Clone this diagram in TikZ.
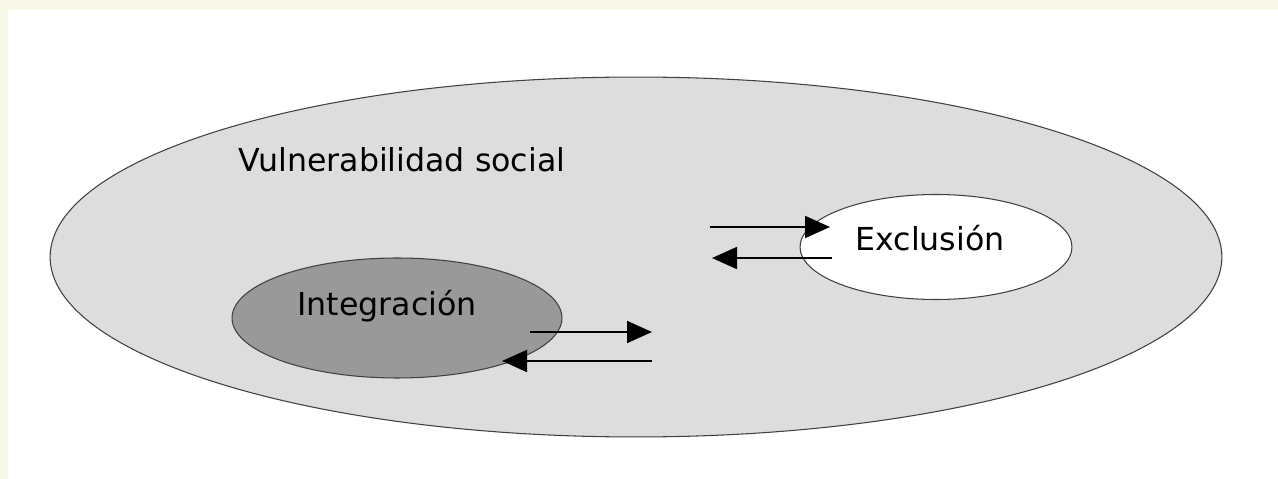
\documentclass[tikz,border=0pt]{standalone}
\usepackage{fontspec}
\setmainfont{DejaVu Sans}
\usetikzlibrary{shapes.geometric,arrows.meta}

\definecolor{paper}{HTML}{F8F9E8}
\definecolor{vulfill}{HTML}{DDDDDD}
\definecolor{intfill}{HTML}{999999}

\tikzset{
    zone/.style={ellipse, draw=black!75, line width=0.6pt, inner sep=0pt},
    flow/.style={line width=1pt, -{Triangle[length=0.5cm, width=0.44cm]}},
    label/.style={font=\fontsize{18}{21}\selectfont, text=black}
}

\begin{document}
\begin{tikzpicture}[x=0.02cm, y=-0.02cm]
    % Page frame
    \fill[paper] (0,0) rectangle (1278,479);
    \fill[white] (8,10) rectangle (1278,479);
    \useasboundingbox (0,0) rectangle (1278,479);

    % Zones
    \node[zone, fill=vulfill, minimum width=23.44cm, minimum height=7.2cm] (vul) at (636,257) {};
    \node[zone, fill=intfill, minimum width=6.6cm, minimum height=2.4cm] (int) at (397,318) {};
    \node[zone, fill=white, minimum width=5.44cm, minimum height=2.1cm] (exc) at (936,247) {};

    % Labels
    \node[label] (vultxt) at (402,160) {Vulnerabilidad social};
    \node[label] (inttxt) at (387,306) {Integración};
    \node[label] (exctxt) at (930,238) {Exclusión};

    % Arrow ends
    \foreach \name/\x/\y in {a1/710/227, a2/830/227, b1/832/258, b2/712/258,
                             c1/530/332, c2/652/332, d1/652/361, d2/502/361} {
        \coordinate (\name) at (\x,\y);
    }

    % Flows
    \draw[flow] (a1) -- (a2);
    \draw[flow] (b1) -- (b2);
    \draw[flow] (c1) -- (c2);
    \draw[flow] (d1) -- (d2);
\end{tikzpicture}
\end{document}
